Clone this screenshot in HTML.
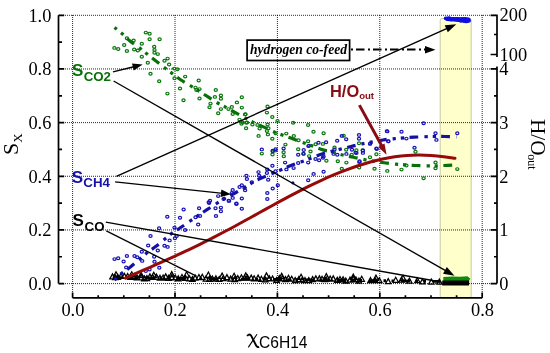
<!DOCTYPE html><html><head><meta charset="utf-8"><style>html,body{margin:0;padding:0;background:#fff;}svg{display:block;will-change:transform;}text{font-family:"Liberation Serif",serif;}</style></head><body>
<svg width="550" height="353" viewBox="0 0 550 353">
<rect x="440.2" y="18.6" width="31" height="279" rx="1.5" fill="#ffffcc" stroke="#c9c9a2" stroke-width="1"/>
<path d="M59 283.6H497M59 229.94H497M59 176.28H497M59 122.62H497M59 68.96H497M59 15.3H497M72.6 15V298M175 15V298M277.4 15V298M379.8 15V298M482.2 15V298" stroke="#000" stroke-width="1" stroke-dasharray="1 1" fill="none" opacity="0.85"/>
<path d="M58.5 15.3V283.6M58.5 283.6H64.2M58.5 229.94H64.2M58.5 176.28H64.2M58.5 122.62H64.2M58.5 68.96H64.2M58.5 15.3H64.2M58.5 256.77H62M58.5 203.11H62M58.5 149.45H62M58.5 95.79H62M58.5 42.13H62M72.6 297.8H482.2M72.6 297.8V292.4M98.2 297.8V295.3M123.8 297.8V295.3M149.4 297.8V295.3M175 297.8V292.4M200.6 297.8V295.3M226.2 297.8V295.3M251.8 297.8V295.3M277.4 297.8V292.4M303 297.8V295.3M328.6 297.8V295.3M354.2 297.8V295.3M379.8 297.8V292.4M405.4 297.8V295.3M431 297.8V295.3M456.6 297.8V295.3M482.2 297.8V292.4M497 15.3V57M497 66.6V283.6M497 283.6H490.6M497 229.94H490.6M497 176.28H490.6M497 122.62H490.6M497 68.96H490.6M497 256.77H494M497 203.11H494M497 149.45H494M497 95.79H494M497.8 15.3H490.6M497 54.5H490.6M497 34.5H494" stroke="#000" stroke-width="1.7" fill="none"/>
<text x="51.4" y="289.9" font-size="18.4" text-anchor="end">0.0</text>
<text x="51.4" y="236.24" font-size="18.4" text-anchor="end">0.2</text>
<text x="51.4" y="182.58" font-size="18.4" text-anchor="end">0.4</text>
<text x="51.4" y="128.92" font-size="18.4" text-anchor="end">0.6</text>
<text x="51.4" y="75.26" font-size="18.4" text-anchor="end">0.8</text>
<text x="51.4" y="21.6" font-size="18.4" text-anchor="end">1.0</text>
<text x="72.9" y="316" font-size="18.4" text-anchor="middle">0.0</text>
<text x="175.3" y="316" font-size="18.4" text-anchor="middle">0.2</text>
<text x="277.7" y="316" font-size="18.4" text-anchor="middle">0.4</text>
<text x="380.1" y="316" font-size="18.4" text-anchor="middle">0.6</text>
<text x="482.5" y="316" font-size="18.4" text-anchor="middle">0.8</text>
<text x="499.2" y="290.1" font-size="18.4">0</text>
<text x="499.2" y="236.44" font-size="18.4">1</text>
<text x="499.2" y="182.78" font-size="18.4">2</text>
<text x="499.2" y="129.12" font-size="18.4">3</text>
<text x="499.2" y="75.46" font-size="18.4">4</text>
<text x="499.5" y="20.9" font-size="18.4">200</text>
<text x="499.5" y="60.6" font-size="18.4">100</text>
<text transform="translate(18.3,155) rotate(-90)" font-size="22">S<tspan font-size="13" dy="3.7">X</tspan></text>
<text transform="translate(531.2,119) rotate(90)" font-size="21.2">H/O<tspan font-size="12" dy="3.6" dx="-1.2">out</tspan></text>
<path d="M247.2 336.2Q248.6 333.4 251 335.4L256 345.2Q257.3 347.8 259 346.6" stroke="#000" stroke-width="1.9" fill="none"/><path d="M257 334.2L248.3 347.4" stroke="#000" stroke-width="1.1" fill="none"/>
<text x="259" y="347.7" font-size="15.6" style="font-family:'Liberation Sans',sans-serif">C6H14</text>
<path d="M113 277.6L440 281.4" stroke="#000" stroke-width="2.8" stroke-dasharray="9 5.5 2.5 5.5 2.5 7"/>
<path d="M109.8 278.88L112.5 273.88L115.2 278.88ZM112.56 279.7L115.26 274.7L117.96 279.7ZM115.18 279.46L117.88 274.46L120.58 279.46ZM118.3 278.35L121 273.35L123.7 278.35ZM121.66 278.34L124.36 273.34L127.06 278.34ZM124.9 278.46L127.6 273.46L130.3 278.46ZM127.56 279.35L130.26 274.35L132.96 279.35ZM131.46 278.67L134.16 273.67L136.86 278.67ZM134.34 279.92L137.04 274.92L139.74 279.92ZM138.45 279.85L141.15 274.85L143.85 279.85ZM141.63 280.85L144.33 275.85L147.03 280.85ZM144.21 280.6L146.91 275.6L149.61 280.6ZM147.2 278.92L149.9 273.92L152.6 278.92ZM149.9 279.35L152.6 274.35L155.3 279.35ZM153.79 279.09L156.49 274.09L159.19 279.09ZM157.27 280.23L159.97 275.23L162.67 280.23ZM160.41 280.05L163.11 275.05L165.81 280.05ZM163.01 278.91L165.71 273.91L168.41 278.91ZM165.86 280.44L168.56 275.44L171.26 280.44ZM169.09 279.6L171.79 274.6L174.49 279.6ZM172.59 279.98L175.29 274.98L177.99 279.98ZM175.6 280.84L178.3 275.84L181 280.84ZM179.28 279.56L181.98 274.56L184.68 279.56ZM182.76 280.28L185.46 275.28L188.16 280.28ZM186.75 280.82L189.45 275.82L192.15 280.82ZM189.74 281.46L192.44 276.46L195.14 281.46ZM192.44 280.14L195.14 275.14L197.84 280.14ZM196.23 279.55L198.93 274.55L201.63 279.55ZM199.56 279.32L202.26 274.32L204.96 279.32ZM203.19 281.11L205.89 276.11L208.59 281.11ZM206.67 281.42L209.37 276.42L212.07 281.42ZM209.7 281.02L212.4 276.02L215.1 281.02ZM213.21 280.79L215.91 275.79L218.61 280.79ZM216.49 281.46L219.19 276.46L221.89 281.46ZM220.59 280.63L223.29 275.63L225.99 280.63ZM224.22 279.68L226.92 274.68L229.62 279.68ZM227.91 281.14L230.61 276.14L233.31 281.14ZM232.1 281.61L234.8 276.61L237.5 281.61ZM235.09 280.6L237.79 275.6L240.49 280.6ZM238.72 279.77L241.42 274.77L244.12 279.77ZM242.01 280.16L244.71 275.16L247.41 280.16ZM244.71 279.93L247.41 274.93L250.11 279.93ZM248.51 280.15L251.21 275.15L253.91 280.15ZM251.43 280.81L254.13 275.81L256.83 280.81ZM255.41 280.12L258.11 275.12L260.81 280.12ZM258.68 281.29L261.38 276.29L264.08 281.29ZM262.68 281.98L265.38 276.98L268.08 281.98ZM266.65 280.74L269.35 275.74L272.05 280.74ZM269.86 280.97L272.56 275.97L275.26 280.97ZM273.86 282.46L276.56 277.46L279.26 282.46ZM276.61 280.61L279.31 275.61L282.01 280.61ZM279.51 280.79L282.21 275.79L284.91 280.79ZM282.83 281.68L285.53 276.68L288.23 281.68ZM285.78 280.32L288.48 275.32L291.18 280.32ZM288.99 281.23L291.69 276.23L294.39 281.23ZM292.46 282.68L295.16 277.68L297.86 282.68ZM296.13 281.67L298.83 276.67L301.53 281.67ZM299.68 282.1L302.38 277.1L305.08 282.1ZM302.27 282.67L304.97 277.67L307.67 282.67ZM306.1 282.66L308.8 277.66L311.5 282.66ZM309.95 281.55L312.65 276.55L315.35 281.55ZM313.13 280.9L315.83 275.9L318.53 280.9ZM316.71 280.84L319.41 275.84L322.11 280.84ZM319.32 281.23L322.02 276.23L324.72 281.23ZM322.1 281.58L324.8 276.58L327.5 281.58ZM324.69 280.79L327.39 275.79L330.09 280.79ZM327.45 281.07L330.15 276.07L332.85 281.07ZM330.56 280.93L333.26 275.93L335.96 280.93ZM334.55 282.39L337.25 277.39L339.95 282.39ZM337.3 281.56L340 276.56L342.7 281.56ZM340.39 281.86L343.09 276.86L345.79 281.86ZM343.1 283.06L345.8 278.06L348.5 283.06ZM347.29 282.19L349.99 277.19L352.69 282.19ZM350.61 281.32L353.31 276.32L356.01 281.32ZM353.29 281.97L355.99 276.97L358.69 281.97ZM356.24 283.18L358.94 278.18L361.64 283.18ZM359.01 281.28L361.71 276.28L364.41 281.28ZM367.77 282.6L370.47 277.6L373.17 282.6ZM372.5 282.69L375.2 277.69L377.9 282.69ZM376.64 282.71L379.34 277.71L382.04 282.71ZM385.53 283.62L388.23 278.62L390.93 283.62ZM393.01 282.27L395.71 277.27L398.41 282.27ZM398.84 282.12L401.54 277.12L404.24 282.12ZM406.7 283.1L409.4 278.1L412.1 283.1ZM414.6 282.71L417.3 277.71L420 282.71ZM419.71 283.93L422.41 278.93L425.11 283.93ZM428.64 284.14L431.34 279.14L434.04 284.14ZM436.67 284.16L439.37 279.16L442.07 284.16ZM113.2 276.98L116 271.78L118.8 276.98ZM128.93 277.02L131.73 271.82L134.53 277.02ZM138.31 277.53L141.11 272.33L143.91 277.53ZM150.94 277.41L153.74 272.21L156.54 277.41ZM168.94 276.8L171.74 271.6L174.54 276.8ZM183.76 277.01L186.56 271.81L189.36 277.01ZM205.6 277.26L208.4 272.06L211.2 277.26ZM219.34 278.31L222.14 273.11L224.94 278.31ZM231.29 278.49L234.09 273.29L236.89 278.49ZM242.95 278.12L245.75 272.92L248.55 278.12ZM263.65 278.12L266.45 272.92L269.25 278.12ZM278.88 278.54L281.68 273.34L284.48 278.54ZM298.28 279.46L301.08 274.26L303.88 279.46ZM323.53 278.79L326.33 273.59L329.13 278.79ZM350.48 279.32L353.28 274.12L356.08 279.32ZM373.17 280.29L375.97 275.09L378.77 280.29ZM400.22 280.44L403.02 275.24L405.82 280.44Z" stroke="#000" stroke-width="1.25" fill="none"/>
<g fill="none" stroke="#0a780f" stroke-width="1.2">
<ellipse cx="114.4" cy="47.9" rx="1.6" ry="1.35"/>
<ellipse cx="118.2" cy="49" rx="1.6" ry="1.35"/>
<ellipse cx="124.2" cy="45" rx="1.6" ry="1.35"/>
<ellipse cx="126.9" cy="51" rx="1.6" ry="1.35"/>
<ellipse cx="134.2" cy="49.5" rx="1.6" ry="1.35"/>
<ellipse cx="137.8" cy="50.5" rx="1.6" ry="1.35"/>
<ellipse cx="141.8" cy="43.7" rx="1.6" ry="1.35"/>
<ellipse cx="145.8" cy="32.6" rx="1.6" ry="1.35"/>
<ellipse cx="149.6" cy="33.7" rx="1.6" ry="1.35"/>
<ellipse cx="149.6" cy="39.2" rx="1.6" ry="1.35"/>
<ellipse cx="159.6" cy="39.2" rx="1.6" ry="1.35"/>
<ellipse cx="154.2" cy="46.8" rx="1.6" ry="1.35"/>
<ellipse cx="154.5" cy="49.9" rx="1.6" ry="1.35"/>
<ellipse cx="154.5" cy="52.8" rx="1.6" ry="1.35"/>
<ellipse cx="157.8" cy="54.1" rx="1.6" ry="1.35"/>
<ellipse cx="141.8" cy="56.8" rx="1.6" ry="1.35"/>
<ellipse cx="147.8" cy="62.8" rx="1.6" ry="1.35"/>
<ellipse cx="164.5" cy="60.8" rx="1.6" ry="1.35"/>
<ellipse cx="167.6" cy="58.6" rx="1.6" ry="1.35"/>
<ellipse cx="169.1" cy="64.5" rx="1.6" ry="1.35"/>
<ellipse cx="150.5" cy="73.7" rx="1.6" ry="1.35"/>
<ellipse cx="174.2" cy="68.6" rx="1.6" ry="1.35"/>
<ellipse cx="177.3" cy="69.2" rx="1.6" ry="1.35"/>
<ellipse cx="126.9" cy="38.3" rx="1.6" ry="1.35"/>
<ellipse cx="133.6" cy="40.5" rx="1.6" ry="1.35"/>
<ellipse cx="159.2" cy="81.2" rx="1.6" ry="1.35"/>
<ellipse cx="167.4" cy="93.6" rx="1.6" ry="1.35"/>
<ellipse cx="174.5" cy="78.3" rx="1.6" ry="1.35"/>
<ellipse cx="185.2" cy="76.6" rx="1.6" ry="1.35"/>
<ellipse cx="180" cy="88.5" rx="1.6" ry="1.35"/>
<ellipse cx="183.5" cy="100.2" rx="1.6" ry="1.35"/>
<ellipse cx="198.7" cy="80.5" rx="1.6" ry="1.35"/>
<ellipse cx="195.5" cy="87.6" rx="1.6" ry="1.35"/>
<ellipse cx="196.4" cy="90" rx="1.6" ry="1.35"/>
<ellipse cx="199.5" cy="89.1" rx="1.6" ry="1.35"/>
<ellipse cx="199.5" cy="98.5" rx="1.6" ry="1.35"/>
<ellipse cx="215.8" cy="90" rx="1.6" ry="1.35"/>
<ellipse cx="214.9" cy="96.9" rx="1.6" ry="1.35"/>
<ellipse cx="220.9" cy="95.5" rx="1.6" ry="1.35"/>
<ellipse cx="220.9" cy="98.7" rx="1.6" ry="1.35"/>
<ellipse cx="210.5" cy="103.6" rx="1.6" ry="1.35"/>
<ellipse cx="209.5" cy="107.3" rx="1.6" ry="1.35"/>
<ellipse cx="220.9" cy="109.1" rx="1.6" ry="1.35"/>
<ellipse cx="218.2" cy="113.3" rx="1.6" ry="1.35"/>
<ellipse cx="228.5" cy="109.1" rx="1.6" ry="1.35"/>
<ellipse cx="231.8" cy="106.9" rx="1.6" ry="1.35"/>
<ellipse cx="236.9" cy="102.4" rx="1.6" ry="1.35"/>
<ellipse cx="241.8" cy="97.3" rx="1.6" ry="1.35"/>
<ellipse cx="241.8" cy="107.6" rx="1.6" ry="1.35"/>
<ellipse cx="232.7" cy="114" rx="1.6" ry="1.35"/>
<ellipse cx="245.5" cy="114.2" rx="1.6" ry="1.35"/>
<ellipse cx="239.5" cy="119.6" rx="1.6" ry="1.35"/>
<ellipse cx="242.7" cy="122.4" rx="1.6" ry="1.35"/>
<ellipse cx="246.4" cy="122.7" rx="1.6" ry="1.35"/>
<ellipse cx="245.1" cy="114.4" rx="1.6" ry="1.35"/>
<ellipse cx="241.5" cy="123.8" rx="1.6" ry="1.35"/>
<ellipse cx="247" cy="122.4" rx="1.6" ry="1.35"/>
<ellipse cx="246.1" cy="128.2" rx="1.6" ry="1.35"/>
<ellipse cx="252.4" cy="124.5" rx="1.6" ry="1.35"/>
<ellipse cx="257.5" cy="125" rx="1.6" ry="1.35"/>
<ellipse cx="259.6" cy="128.6" rx="1.6" ry="1.35"/>
<ellipse cx="266.9" cy="112.6" rx="1.6" ry="1.35"/>
<ellipse cx="267.5" cy="106.5" rx="1.6" ry="1.35"/>
<ellipse cx="272.3" cy="117" rx="1.6" ry="1.35"/>
<ellipse cx="267.6" cy="124.5" rx="1.6" ry="1.35"/>
<ellipse cx="268.4" cy="128.2" rx="1.6" ry="1.35"/>
<ellipse cx="266.9" cy="131.1" rx="1.6" ry="1.35"/>
<ellipse cx="267.9" cy="134.4" rx="1.6" ry="1.35"/>
<ellipse cx="258.6" cy="135.9" rx="1.6" ry="1.35"/>
<ellipse cx="272.3" cy="138.8" rx="1.6" ry="1.35"/>
<ellipse cx="277.5" cy="120.9" rx="1.6" ry="1.35"/>
<ellipse cx="275.6" cy="133.3" rx="1.6" ry="1.35"/>
<ellipse cx="286.3" cy="133.6" rx="1.6" ry="1.35"/>
<ellipse cx="293.1" cy="122.8" rx="1.6" ry="1.35"/>
<ellipse cx="308.1" cy="125" rx="1.6" ry="1.35"/>
<ellipse cx="313.5" cy="131.8" rx="1.6" ry="1.35"/>
<ellipse cx="293.8" cy="135.9" rx="1.6" ry="1.35"/>
<ellipse cx="298.5" cy="140.3" rx="1.6" ry="1.35"/>
<ellipse cx="308.1" cy="141.3" rx="1.6" ry="1.35"/>
<ellipse cx="285.4" cy="144.6" rx="1.6" ry="1.35"/>
<ellipse cx="261.8" cy="153.6" rx="1.6" ry="1.35"/>
<ellipse cx="272.7" cy="151.5" rx="1.6" ry="1.35"/>
<ellipse cx="283.6" cy="152.2" rx="1.6" ry="1.35"/>
<ellipse cx="283.8" cy="156.2" rx="1.6" ry="1.35"/>
<ellipse cx="272.5" cy="154.5" rx="1.6" ry="1.35"/>
<ellipse cx="298.2" cy="149.3" rx="1.6" ry="1.35"/>
<ellipse cx="303.3" cy="153.6" rx="1.6" ry="1.35"/>
<ellipse cx="310.5" cy="151.5" rx="1.6" ry="1.35"/>
<ellipse cx="315.6" cy="144.2" rx="1.6" ry="1.35"/>
<ellipse cx="275.5" cy="150.6" rx="1.6" ry="1.35"/>
<ellipse cx="323.6" cy="133.2" rx="1.6" ry="1.35"/>
<ellipse cx="343.6" cy="135.7" rx="1.6" ry="1.35"/>
<ellipse cx="309.1" cy="156.1" rx="1.6" ry="1.35"/>
<ellipse cx="326.4" cy="160.8" rx="1.6" ry="1.35"/>
<ellipse cx="337.8" cy="161.2" rx="1.6" ry="1.35"/>
<ellipse cx="346.4" cy="162.6" rx="1.6" ry="1.35"/>
<ellipse cx="334.5" cy="147.5" rx="1.6" ry="1.35"/>
<ellipse cx="356.4" cy="150.3" rx="1.6" ry="1.35"/>
<ellipse cx="362.7" cy="150.3" rx="1.6" ry="1.35"/>
<ellipse cx="370" cy="157.2" rx="1.6" ry="1.35"/>
<ellipse cx="376.4" cy="154.3" rx="1.6" ry="1.35"/>
<ellipse cx="359.1" cy="167.5" rx="1.6" ry="1.35"/>
<ellipse cx="374.5" cy="168.8" rx="1.6" ry="1.35"/>
<ellipse cx="341.8" cy="168.8" rx="1.6" ry="1.35"/>
<ellipse cx="322.9" cy="143.9" rx="1.6" ry="1.35"/>
<ellipse cx="359" cy="143.2" rx="1.6" ry="1.35"/>
<ellipse cx="346.2" cy="149.7" rx="1.6" ry="1.35"/>
<ellipse cx="351.7" cy="154.8" rx="1.6" ry="1.35"/>
<ellipse cx="387.3" cy="170.9" rx="1.6" ry="1.35"/>
<ellipse cx="401.5" cy="169.6" rx="1.6" ry="1.35"/>
<ellipse cx="406.4" cy="165.5" rx="1.6" ry="1.35"/>
<ellipse cx="415.5" cy="151.8" rx="1.6" ry="1.35"/>
<ellipse cx="423.6" cy="178.2" rx="1.6" ry="1.35"/>
<ellipse cx="435.5" cy="162.4" rx="1.6" ry="1.35"/>
<ellipse cx="435.5" cy="168.2" rx="1.6" ry="1.35"/>
<ellipse cx="457.3" cy="169.1" rx="1.6" ry="1.35"/>
</g>
<g fill="none" stroke="#1812b8" stroke-width="1.2">
<ellipse cx="183.6" cy="209.5" rx="1.6" ry="1.35"/>
<ellipse cx="199.1" cy="208.2" rx="1.6" ry="1.35"/>
<ellipse cx="167.3" cy="216.7" rx="1.6" ry="1.35"/>
<ellipse cx="180" cy="217.8" rx="1.6" ry="1.35"/>
<ellipse cx="195.5" cy="217.3" rx="1.6" ry="1.35"/>
<ellipse cx="198.2" cy="224.5" rx="1.6" ry="1.35"/>
<ellipse cx="159.1" cy="228.2" rx="1.6" ry="1.35"/>
<ellipse cx="174.5" cy="227.6" rx="1.6" ry="1.35"/>
<ellipse cx="185.1" cy="230" rx="1.6" ry="1.35"/>
<ellipse cx="150.5" cy="236" rx="1.6" ry="1.35"/>
<ellipse cx="174.9" cy="238.2" rx="1.6" ry="1.35"/>
<ellipse cx="169.6" cy="240.4" rx="1.6" ry="1.35"/>
<ellipse cx="176.7" cy="236" rx="1.6" ry="1.35"/>
<ellipse cx="148.2" cy="245.5" rx="1.6" ry="1.35"/>
<ellipse cx="164.5" cy="245.8" rx="1.6" ry="1.35"/>
<ellipse cx="167.6" cy="246.9" rx="1.6" ry="1.35"/>
<ellipse cx="157.8" cy="250.5" rx="1.6" ry="1.35"/>
<ellipse cx="141.8" cy="251.8" rx="1.6" ry="1.35"/>
<ellipse cx="126.9" cy="256" rx="1.6" ry="1.35"/>
<ellipse cx="134.5" cy="256" rx="1.6" ry="1.35"/>
<ellipse cx="137.3" cy="257.3" rx="1.6" ry="1.35"/>
<ellipse cx="114.5" cy="259.1" rx="1.6" ry="1.35"/>
<ellipse cx="118.2" cy="258.2" rx="1.6" ry="1.35"/>
<ellipse cx="123.6" cy="261.5" rx="1.6" ry="1.35"/>
<ellipse cx="142.2" cy="260.9" rx="1.6" ry="1.35"/>
<ellipse cx="154.2" cy="256.7" rx="1.6" ry="1.35"/>
<ellipse cx="154.5" cy="261.8" rx="1.6" ry="1.35"/>
<ellipse cx="126.2" cy="267.4" rx="1.6" ry="1.35"/>
<ellipse cx="159.3" cy="267.8" rx="1.6" ry="1.35"/>
<ellipse cx="149.5" cy="269.5" rx="1.6" ry="1.35"/>
<ellipse cx="145.8" cy="271" rx="1.6" ry="1.35"/>
<ellipse cx="208.7" cy="202.2" rx="1.6" ry="1.35"/>
<ellipse cx="215.5" cy="208.2" rx="1.6" ry="1.35"/>
<ellipse cx="220.9" cy="207.6" rx="1.6" ry="1.35"/>
<ellipse cx="220.9" cy="211.3" rx="1.6" ry="1.35"/>
<ellipse cx="216" cy="216" rx="1.6" ry="1.35"/>
<ellipse cx="229.1" cy="200.9" rx="1.6" ry="1.35"/>
<ellipse cx="236.4" cy="204" rx="1.6" ry="1.35"/>
<ellipse cx="241.8" cy="208.7" rx="1.6" ry="1.35"/>
<ellipse cx="200" cy="216" rx="1.6" ry="1.35"/>
<ellipse cx="261.8" cy="149.4" rx="1.6" ry="1.35"/>
<ellipse cx="272.4" cy="165.7" rx="1.6" ry="1.35"/>
<ellipse cx="267.3" cy="169.4" rx="1.6" ry="1.35"/>
<ellipse cx="258.5" cy="172.1" rx="1.6" ry="1.35"/>
<ellipse cx="259.1" cy="175.7" rx="1.6" ry="1.35"/>
<ellipse cx="266.9" cy="173" rx="1.6" ry="1.35"/>
<ellipse cx="275.5" cy="171.2" rx="1.6" ry="1.35"/>
<ellipse cx="246.4" cy="175.7" rx="1.6" ry="1.35"/>
<ellipse cx="246.9" cy="179" rx="1.6" ry="1.35"/>
<ellipse cx="251.8" cy="182.1" rx="1.6" ry="1.35"/>
<ellipse cx="268.2" cy="179.7" rx="1.6" ry="1.35"/>
<ellipse cx="277.8" cy="185.2" rx="1.6" ry="1.35"/>
<ellipse cx="272.7" cy="188.5" rx="1.6" ry="1.35"/>
<ellipse cx="267.3" cy="193" rx="1.6" ry="1.35"/>
<ellipse cx="267.3" cy="199" rx="1.6" ry="1.35"/>
<ellipse cx="241.8" cy="185.2" rx="1.6" ry="1.35"/>
<ellipse cx="239.6" cy="187" rx="1.6" ry="1.35"/>
<ellipse cx="244.5" cy="188.1" rx="1.6" ry="1.35"/>
<ellipse cx="245.1" cy="190.3" rx="1.6" ry="1.35"/>
<ellipse cx="232.7" cy="189.9" rx="1.6" ry="1.35"/>
<ellipse cx="231.8" cy="193" rx="1.6" ry="1.35"/>
<ellipse cx="218.2" cy="196.1" rx="1.6" ry="1.35"/>
<ellipse cx="223.6" cy="199" rx="1.6" ry="1.35"/>
<ellipse cx="228.7" cy="200.8" rx="1.6" ry="1.35"/>
<ellipse cx="232.7" cy="197.9" rx="1.6" ry="1.35"/>
<ellipse cx="241.8" cy="198.5" rx="1.6" ry="1.35"/>
<ellipse cx="236.4" cy="203.4" rx="1.6" ry="1.35"/>
<ellipse cx="210" cy="200.8" rx="1.6" ry="1.35"/>
<ellipse cx="209.1" cy="203" rx="1.6" ry="1.35"/>
<ellipse cx="272.7" cy="150.7" rx="1.6" ry="1.35"/>
<ellipse cx="275.6" cy="149.3" rx="1.6" ry="1.35"/>
<ellipse cx="283.6" cy="148.5" rx="1.6" ry="1.35"/>
<ellipse cx="303.7" cy="150" rx="1.6" ry="1.35"/>
<ellipse cx="308.4" cy="146.1" rx="1.6" ry="1.35"/>
<ellipse cx="298.2" cy="154.8" rx="1.6" ry="1.35"/>
<ellipse cx="318.5" cy="142.7" rx="1.6" ry="1.35"/>
<ellipse cx="285.1" cy="162.6" rx="1.6" ry="1.35"/>
<ellipse cx="286.4" cy="169.4" rx="1.6" ry="1.35"/>
<ellipse cx="293.6" cy="168.1" rx="1.6" ry="1.35"/>
<ellipse cx="298.2" cy="163" rx="1.6" ry="1.35"/>
<ellipse cx="308.2" cy="162.6" rx="1.6" ry="1.35"/>
<ellipse cx="323.6" cy="171.7" rx="1.6" ry="1.35"/>
<ellipse cx="313.6" cy="173.9" rx="1.6" ry="1.35"/>
<ellipse cx="308.2" cy="180.3" rx="1.6" ry="1.35"/>
<ellipse cx="303.6" cy="153.9" rx="1.6" ry="1.35"/>
<ellipse cx="309.1" cy="145.7" rx="1.6" ry="1.35"/>
<ellipse cx="315.5" cy="159" rx="1.6" ry="1.35"/>
<ellipse cx="319.1" cy="160.3" rx="1.6" ry="1.35"/>
<ellipse cx="323.6" cy="156.6" rx="1.6" ry="1.35"/>
<ellipse cx="333.6" cy="153.9" rx="1.6" ry="1.35"/>
<ellipse cx="337.3" cy="154.8" rx="1.6" ry="1.35"/>
<ellipse cx="346.4" cy="153.9" rx="1.6" ry="1.35"/>
<ellipse cx="356.4" cy="153" rx="1.6" ry="1.35"/>
<ellipse cx="359.6" cy="161.2" rx="1.6" ry="1.35"/>
<ellipse cx="376.4" cy="148.5" rx="1.6" ry="1.35"/>
<ellipse cx="370" cy="143.9" rx="1.6" ry="1.35"/>
<ellipse cx="334.5" cy="149.4" rx="1.6" ry="1.35"/>
<ellipse cx="386.9" cy="131.1" rx="1.6" ry="1.35"/>
<ellipse cx="359" cy="134.9" rx="1.6" ry="1.35"/>
<ellipse cx="359" cy="138.8" rx="1.6" ry="1.35"/>
<ellipse cx="341.8" cy="135.9" rx="1.6" ry="1.35"/>
<ellipse cx="346.2" cy="139.3" rx="1.6" ry="1.35"/>
<ellipse cx="337.2" cy="140.7" rx="1.6" ry="1.35"/>
<ellipse cx="326.1" cy="142.2" rx="1.6" ry="1.35"/>
<ellipse cx="370.2" cy="143.6" rx="1.6" ry="1.35"/>
<ellipse cx="388.4" cy="141.3" rx="1.6" ry="1.35"/>
<ellipse cx="376.7" cy="149" rx="1.6" ry="1.35"/>
<ellipse cx="352" cy="149.7" rx="1.6" ry="1.35"/>
<ellipse cx="355.6" cy="152.6" rx="1.6" ry="1.35"/>
<ellipse cx="362.9" cy="150.5" rx="1.6" ry="1.35"/>
<ellipse cx="362.9" cy="152.9" rx="1.6" ry="1.35"/>
<ellipse cx="359.3" cy="162.1" rx="1.6" ry="1.35"/>
<ellipse cx="322.9" cy="157.7" rx="1.6" ry="1.35"/>
<ellipse cx="423.6" cy="123.2" rx="1.6" ry="1.35"/>
<ellipse cx="387.3" cy="131.4" rx="1.6" ry="1.35"/>
<ellipse cx="401.5" cy="131.7" rx="1.6" ry="1.35"/>
<ellipse cx="406.4" cy="138.6" rx="1.6" ry="1.35"/>
<ellipse cx="388.2" cy="141.2" rx="1.6" ry="1.35"/>
<ellipse cx="435.5" cy="133.2" rx="1.6" ry="1.35"/>
<ellipse cx="436.4" cy="139.9" rx="1.6" ry="1.35"/>
<ellipse cx="457.3" cy="133.2" rx="1.6" ry="1.35"/>
<ellipse cx="414.5" cy="147.8" rx="1.6" ry="1.35"/>
</g>
<circle cx="292.9" cy="182.8" r="1.6" fill="#1410a8"/>
<path d="M114.5 27.5C115.78 28.53 119.62 31.45 122.2 33.7C124.78 35.95 127.03 38.57 130 41C132.97 43.43 137.22 46.18 140 48.3C142.78 50.42 144.03 51.58 146.7 53.7C149.37 55.82 152.97 58.6 156 61C159.03 63.4 162.27 66.08 164.9 68.1C167.53 70.12 169.12 71.12 171.8 73.1C174.48 75.08 177.82 77.85 181 80C184.18 82.15 188.03 84.23 190.9 86C193.77 87.77 195.4 88.82 198.2 90.6C201 92.38 204.47 94.63 207.7 96.7C210.93 98.77 214.72 101.32 217.6 103C220.48 104.68 222.1 105.25 225 106.8C227.9 108.35 231.58 110.42 235 112.3C238.42 114.18 242.55 116.47 245.5 118.1C248.45 119.73 249.82 120.68 252.7 122.1C255.58 123.52 259.15 124.93 262.8 126.6C266.45 128.27 271.37 130.7 274.6 132.1C277.83 133.5 279.18 133.9 282.2 135C285.22 136.1 289.18 137.42 292.7 138.7C296.22 139.98 300.2 141.55 303.3 142.7C306.4 143.85 308.02 144.4 311.3 145.6C314.58 146.8 319.48 148.85 323 149.9C326.52 150.95 329.27 151.08 332.4 151.9C335.53 152.72 338.28 153.92 341.8 154.8C345.32 155.68 349.73 156.4 353.5 157.2C357.27 158 359.98 158.77 364.4 159.6C368.82 160.43 374.73 161.43 380 162.2C385.27 162.97 391.92 163.77 396 164.2C400.08 164.63 401.17 164.58 404.5 164.8C407.83 165.02 412.15 165.33 416 165.5C419.85 165.67 424.35 165.75 427.6 165.8C430.85 165.85 432.15 165.88 435.5 165.8C438.85 165.72 444.87 165.42 447.7 165.3C450.53 165.18 451.7 165.13 452.5 165.1" stroke="#077007" stroke-width="3.2" fill="none" stroke-dasharray="3.2 5.1 3.2 5.3 8.8 6.1"/>
<path d="M114.5 280C115.72 278.87 119.05 275.45 121.8 273.2C124.55 270.95 126.9 269.82 131 266.5C135.1 263.18 142.23 256.67 146.4 253.3C150.57 249.93 151.82 249.58 156 246.3C160.18 243.02 167.33 236.77 171.5 233.6C175.67 230.43 176.92 230.07 181 227.3C185.08 224.53 191.67 219.93 196 217C200.33 214.07 202.5 212.62 207 209.7C211.5 206.78 218.17 202.37 223 199.5C227.83 196.63 231.5 195.08 236 192.5C240.5 189.92 245.67 186.45 250 184C254.33 181.55 257 180.08 262 177.8C267 175.52 275.17 172.35 280 170.3C284.83 168.25 286.83 167.13 291 165.5C295.17 163.87 299.83 162.42 305 160.5C310.17 158.58 317 155.67 322 154C327 152.33 330.17 151.75 335 150.5C339.83 149.25 346.5 147.6 351 146.5C355.5 145.4 356.67 144.98 362 143.9C367.33 142.82 377.5 140.88 383 140C388.5 139.12 389.83 139.07 395 138.6C400.17 138.13 407.67 137.55 414 137.2C420.33 136.85 427.83 136.62 433 136.5C438.17 136.38 441.08 136.45 445 136.5C448.92 136.55 454.58 136.75 456.5 136.8" stroke="#1410a8" stroke-width="3.2" fill="none" stroke-dasharray="3.2 5.1 3.2 5.3 8.8 6.1"/>
<path d="M125.5 278.17C127.53 277.25 133.62 274.48 137.7 272.66C141.78 270.85 145.92 269.07 150 267.28C154.08 265.48 158.12 263.7 162.2 261.89C166.28 260.07 170.42 258.25 174.5 256.39C178.58 254.53 182.63 252.64 186.7 250.71C190.77 248.78 194.82 246.83 198.9 244.82C202.98 242.81 207.12 240.75 211.2 238.66C215.28 236.57 219.32 234.44 223.4 232.29C227.48 230.14 231.62 227.95 235.7 225.74C239.78 223.53 243.83 221.29 247.9 219.05C251.97 216.81 256.02 214.54 260.1 212.28C264.18 210.02 268.32 207.75 272.4 205.51C276.48 203.27 280.52 201.03 284.6 198.83C288.68 196.64 292.82 194.46 296.9 192.34C300.98 190.22 305.02 188.14 309.1 186.13C313.18 184.12 317.32 182.16 321.4 180.29C325.48 178.42 329.53 176.62 333.6 174.93C337.67 173.24 341.72 171.65 345.8 170.12C349.88 168.59 354.02 167.12 358.1 165.77C362.18 164.42 366.22 163.15 370.3 162.03C374.38 160.91 378.52 159.91 382.6 159.03C386.68 158.15 390.73 157.37 394.8 156.77C398.87 156.17 402.92 155.7 407 155.41C411.08 155.12 415.22 155.03 419.3 155.05C423.38 155.07 427.42 155.25 431.5 155.53C435.58 155.81 439.88 156.28 443.8 156.75C447.72 157.22 453.13 158.06 455 158.32" stroke="#960a0a" stroke-width="3" fill="none" stroke-linecap="round"/>
<path d="M446.5 17.2H466Q470.5 17.6 470 20Q469.3 22.6 466 22.4L447 21Q444.6 20.6 444.7 19Q445 17.2 446.5 17.2Z" fill="#1010d8"/>
<g fill="none" stroke="#1010e0" stroke-width="1.2"><ellipse cx="445.8" cy="18.27" rx="1.5" ry="1.25"/><ellipse cx="446.84" cy="18.49" rx="1.5" ry="1.25"/><ellipse cx="447.92" cy="18.89" rx="1.5" ry="1.25"/><ellipse cx="448.57" cy="18.06" rx="1.5" ry="1.25"/><ellipse cx="449.84" cy="18.46" rx="1.5" ry="1.25"/><ellipse cx="450.63" cy="19.52" rx="1.5" ry="1.25"/><ellipse cx="451.6" cy="19.34" rx="1.5" ry="1.25"/><ellipse cx="452.59" cy="19.1" rx="1.5" ry="1.25"/><ellipse cx="453.31" cy="19.12" rx="1.5" ry="1.25"/><ellipse cx="454.6" cy="19.02" rx="1.5" ry="1.25"/><ellipse cx="455.79" cy="19.27" rx="1.5" ry="1.25"/><ellipse cx="456.44" cy="19.42" rx="1.5" ry="1.25"/><ellipse cx="457.52" cy="18.82" rx="1.5" ry="1.25"/><ellipse cx="458.14" cy="19.64" rx="1.5" ry="1.25"/><ellipse cx="459.12" cy="19.47" rx="1.5" ry="1.25"/><ellipse cx="460.42" cy="19.52" rx="1.5" ry="1.25"/><ellipse cx="460.82" cy="20.82" rx="1.5" ry="1.25"/><ellipse cx="461.76" cy="19.12" rx="1.5" ry="1.25"/><ellipse cx="462.16" cy="20.42" rx="1.5" ry="1.25"/><ellipse cx="463" cy="19.24" rx="1.5" ry="1.25"/><ellipse cx="463.4" cy="20.54" rx="1.5" ry="1.25"/><ellipse cx="464.35" cy="19.9" rx="1.5" ry="1.25"/><ellipse cx="464.75" cy="21.2" rx="1.5" ry="1.25"/><ellipse cx="465.03" cy="18.89" rx="1.5" ry="1.25"/><ellipse cx="465.43" cy="20.19" rx="1.5" ry="1.25"/><ellipse cx="465.8" cy="20.08" rx="1.5" ry="1.25"/><ellipse cx="466.2" cy="21.38" rx="1.5" ry="1.25"/><ellipse cx="466.75" cy="19.65" rx="1.5" ry="1.25"/><ellipse cx="467.15" cy="20.95" rx="1.5" ry="1.25"/><ellipse cx="467.59" cy="19.51" rx="1.5" ry="1.25"/><ellipse cx="467.99" cy="20.81" rx="1.5" ry="1.25"/><ellipse cx="468.5" cy="19.33" rx="1.5" ry="1.25"/><ellipse cx="468.9" cy="20.63" rx="1.5" ry="1.25"/></g>
<path d="M443.3 277L452 276.6L460 276.8L467.5 276.2L470.4 278.8L468.5 281.2H443.3Z" fill="#0f8a0f"/>
<path d="M442.2 280.6H469.2L469 285.4H442.2Z" fill="#000"/>
<line x1="113" y1="71.9" x2="134.83" y2="66.52" stroke="#000" stroke-width="1.35" /><path d="M142.6 64.6L133.78 70.59L132 63.4Z" fill="#000"/>
<line x1="113.6" y1="81" x2="446.86" y2="271.43" stroke="#000" stroke-width="1.35" /><path d="M454.5 275.8L443.06 273.64L446.83 267.04Z" fill="#000"/>
<line x1="116.4" y1="176.4" x2="448.27" y2="27.8" stroke="#000" stroke-width="1.35" /><path d="M456.3 24.2L447.81 32.16L444.71 25.23Z" fill="#000"/>
<line x1="115.1" y1="181.8" x2="222.95" y2="193.44" stroke="#000" stroke-width="1.35" /><path d="M230.9 194.3L220.56 196.91L221.35 189.55Z" fill="#000"/>
<line x1="105.8" y1="222.1" x2="441" y2="282" stroke="#000" stroke-width="1.35"/>
<line x1="106.3" y1="230.8" x2="196.4" y2="276.2" stroke="#000" stroke-width="1.35"/>
<line x1="359.4" y1="105.1" x2="382.38" y2="147.08" stroke="#870c14" stroke-width="3" /><path d="M386.6 154.8L378.16 146.88L384.48 143.42Z" fill="#870c14"/>
<line x1="351" y1="49.5" x2="426" y2="49.5" stroke="#000" stroke-width="2" stroke-dasharray="2 3 8.5 3.5"/>
<path d="M425 46L435.5 49.7L425 53.6Z" fill="#000"/>
<rect x="247.1" y="40.1" width="102.5" height="20.4" fill="none" stroke="#000" stroke-width="1.7"/>
<text x="250" y="54.3" font-size="13.6" font-weight="bold" font-style="italic">hydrogen co-feed</text>
<text x="72" y="76.2" font-size="17" fill="#077007" style="font-family:'Liberation Sans',sans-serif;font-weight:bold">S<tspan font-size="13.3" dy="4.6" dx="0.3">CO2</tspan></text>
<text x="71.7" y="183.1" font-size="17" fill="#1410a8" style="font-family:'Liberation Sans',sans-serif;font-weight:bold">S<tspan font-size="13.3" dy="4.1" dx="0.3">CH4</tspan></text>
<text x="72.6" y="226.4" font-size="17" fill="#000" style="font-family:'Liberation Sans',sans-serif;font-weight:bold">S<tspan font-size="13.3" dy="4.1" dx="0.6">CO</tspan></text>
<text x="330" y="96.7" font-size="16.4" fill="#870c14" style="font-family:'Liberation Sans',sans-serif;font-weight:bold">H/O<tspan font-size="9.6" dy="2">out</tspan></text>
</svg></body></html>
